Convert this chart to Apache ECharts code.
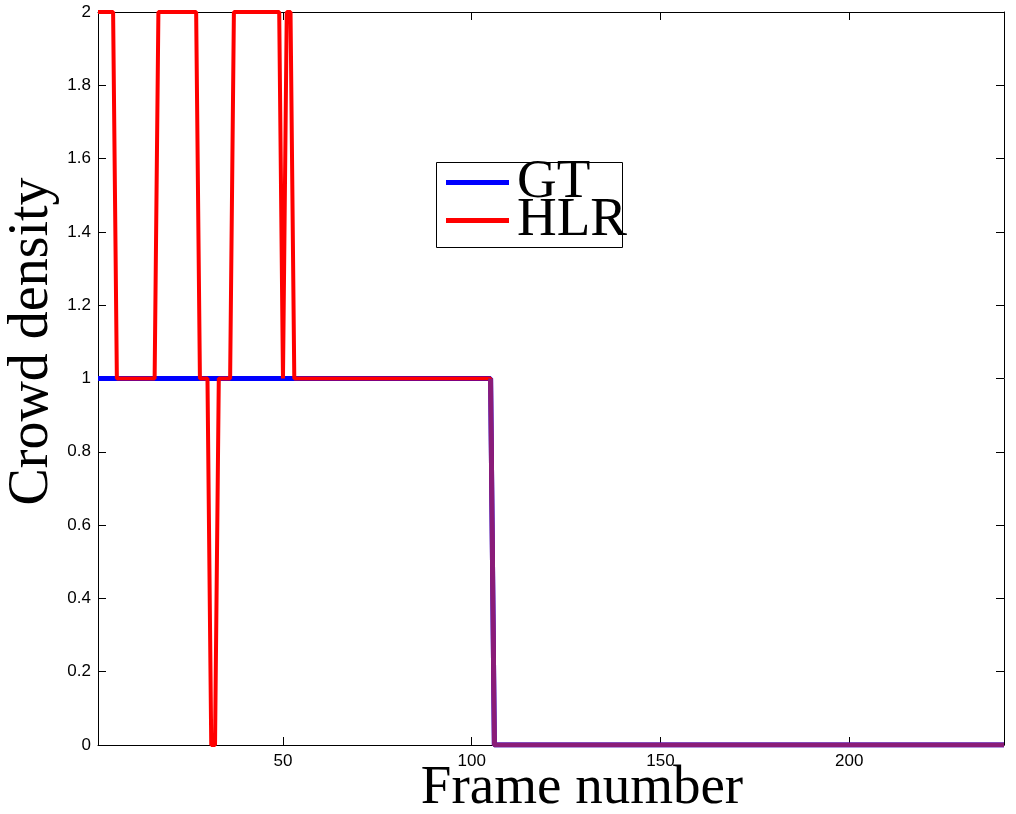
<!DOCTYPE html>
<html>
<head>
<meta charset="utf-8">
<script src="https://cdn.jsdelivr.net/npm/echarts@6/dist/echarts.min.js"></script>
<style>html,body{margin:0;padding:0;background:#fff}#c{width:1016px;height:814px}</style>
</head>
<body>
<div id="c"></div>
<script>
// ---- data ----
const gtFrames  = [1, 105, 106, 241];
const gtValues  = [1, 1, 0, 0];
const hlrFrames = [1, 5, 6, 16, 17, 27, 28, 30, 31, 32, 33, 36, 37, 49, 50, 51, 52, 53, 105, 106, 241];
const hlrValues = [2, 2, 1, 1, 2, 2, 1, 1, 0, 0, 1, 1, 2, 2, 1, 2, 2, 1, 1, 0, 0];
const xTicks = [50, 100, 150, 200];
const xRange = [1, 241];
const yRange = [0, 2];
const yStep = 0.2;
const seriesNames = ['GT', 'HLR'];

const zip = (xs, ys) => xs.map((x, i) => [x, ys[i]]);
const gtData = zip(gtFrames, gtValues);
const hlrData = zip(hlrFrames, hlrValues);
// portion where the two curves coincide (drawn in the blended colour)
const overlapData = hlrData.filter(p => p[0] >= 105);

const chart = echarts.init(document.getElementById('c'), null, {renderer: 'canvas'});
const black = '#000';
const tickFont = {color: black, fontFamily: 'Liberation Sans', fontSize: 17};
const serif = 'Liberation Serif';

const xBase = {
  type: 'value', min: xRange[0], max: xRange[1],
  axisLine: {show: true, onZero: false, lineStyle: {color: black, width: 1}},
  axisTick: {show: true, inside: true, length: 8, lineStyle: {color: black}, customValues: xTicks},
  splitLine: {show: false}
};
const yBase = {
  type: 'value', min: yRange[0], max: yRange[1], interval: yStep,
  axisLine: {show: true, onZero: false, lineStyle: {color: black, width: 1}},
  axisTick: {show: true, inside: true, length: 8, lineStyle: {color: black}},
  splitLine: {show: false}
};

chart.setOption({
  animation: false,
  backgroundColor: '#fff',
  grid: {left: 98, right: 12, top: 12, bottom: 69, containLabel: false, outerBoundsMode: 'none'},
  xAxis: [
    Object.assign({}, xBase, {
      position: 'bottom',
      axisLabel: Object.assign({show: true, margin: 8, customValues: xTicks}, tickFont),
      name: 'Frame number', nameLocation: 'middle', nameGap: 16, nameMoveOverlap: false,
      nameTextStyle: {fontFamily: serif, fontSize: 55, color: black, padding: [0, 0, 0, 62]}
    }),
    Object.assign({}, xBase, {position: 'top', axisLabel: {show: false}})
  ],
  yAxis: [
    Object.assign({}, yBase, {
      position: 'left',
      axisLabel: Object.assign({show: true, margin: 7}, tickFont),
      name: 'Crowd density', nameLocation: 'middle', nameGap: 38, nameMoveOverlap: false,
      nameTextStyle: {fontFamily: serif, fontSize: 56, color: black, padding: [0, 0, 0, 74]}
    }),
    Object.assign({}, yBase, {position: 'right', axisLabel: {show: false}})
  ],
  legend: {
    left: 434, top: 155, orient: 'vertical',
    padding: [0, 8, 0, 12], itemGap: -17,
    itemWidth: 63, itemHeight: 5,
    icon: 'rect',
    textStyle: {fontFamily: serif, fontSize: 55, color: black, padding: [0, 0, 0, 3]},
    data: [
      {name: seriesNames[0], itemStyle: {color: '#0000ff'}},
      {name: seriesNames[1], itemStyle: {color: '#ff0000'}}
    ]
  },
  graphic: [{
    type: 'rect', left: 434, top: 160, z: 100, silent: true,
    shape: {width: 186, height: 85},
    style: {fill: 'none', stroke: black, lineWidth: 1}
  }],
  series: [
    {name: seriesNames[0], type: 'line', data: gtData, showSymbol: false, symbol: 'none',
     lineStyle: {color: '#0000ff', width: 5}, itemStyle: {color: '#0000ff'}, z: 2},
    {name: seriesNames[1], type: 'line', data: hlrData, showSymbol: false, symbol: 'none',
     lineStyle: {color: '#ff0000', width: 4}, itemStyle: {color: '#ff0000'}, z: 3},
    {name: 'overlap', type: 'line', data: overlapData, showSymbol: false, symbol: 'none',
     lineStyle: {color: '#8a1c78', width: 5}, itemStyle: {color: '#8a1c78'}, z: 4}
  ]
});
</script>
</body>
</html>
